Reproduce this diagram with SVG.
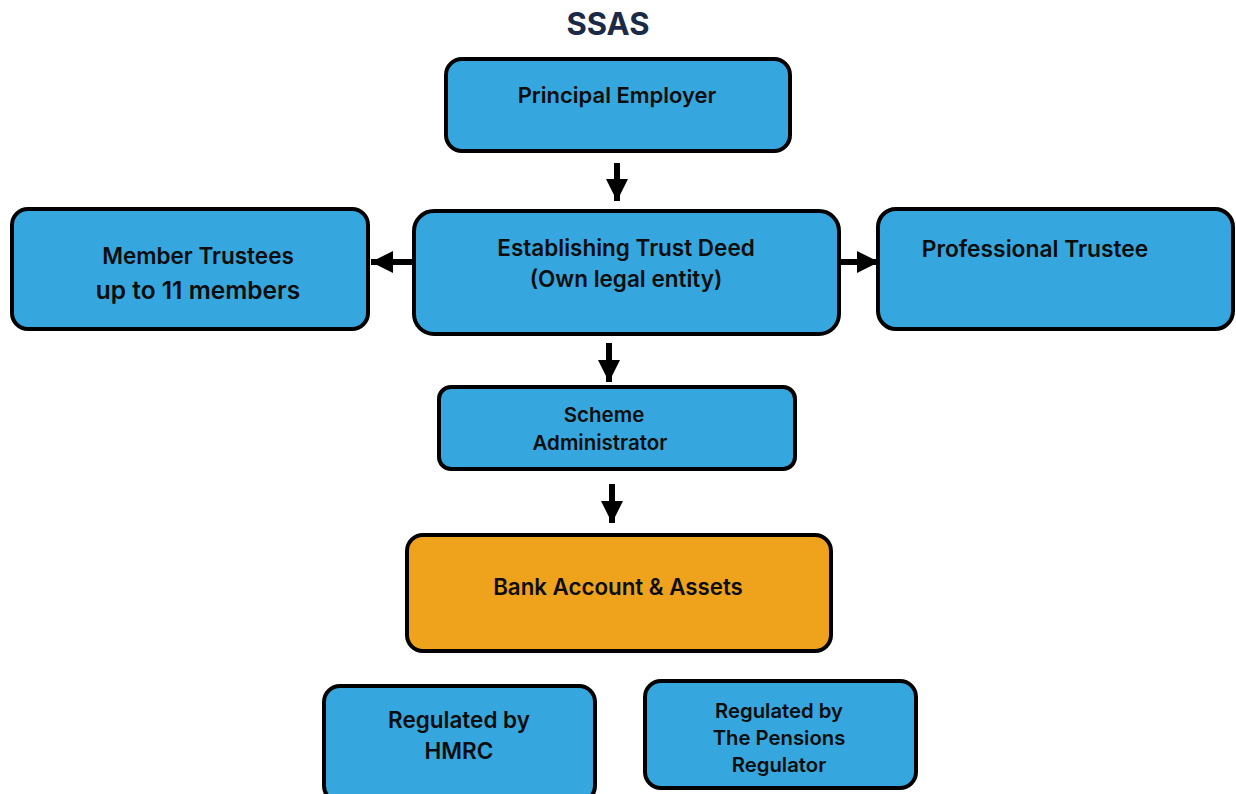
<svg xmlns="http://www.w3.org/2000/svg" width="1236" height="794" viewBox="0 0 1236 794">
<style>
.box{fill:#35A7DE;stroke:#000;stroke-width:4}
.bank{fill:#EFA31C;stroke:#000;stroke-width:4}
.t{font-family:Inter,"Noto Sans",sans-serif;font-weight:600;fill:#0d0d0d;text-anchor:middle}
.conn{stroke:#000;stroke-width:6;fill:none}
</style>
<defs>
<marker id="ah" viewBox="0 0 10 10" refX="10" refY="5" markerWidth="3.7" markerHeight="3.7" orient="auto" markerUnits="strokeWidth">
<path d="M0,0 L10,5 L0,10 Z" fill="#000"/>
</marker>
</defs>
<rect width="1236" height="794" fill="#fff"/>
<text x="608" y="35" class="t" style="font-size:31px;font-weight:700;fill:#1B2A47">SSAS</text>
<g id="connectors">
<line class="conn" x1="617" y1="163" x2="617" y2="201" marker-end="url(#ah)"/>
<line class="conn" x1="412" y1="262" x2="371" y2="262" marker-end="url(#ah)"/>
<line class="conn" x1="840" y1="262" x2="879" y2="262" marker-end="url(#ah)"/>
<line class="conn" x1="609" y1="343" x2="609" y2="382" marker-end="url(#ah)"/>
<line class="conn" x1="612" y1="484" x2="612" y2="523" marker-end="url(#ah)"/>
</g>
<g id="principal">
<rect class="box" x="446" y="59" width="344" height="92" rx="16"/>
<text class="t" x="617" y="103" style="font-size:22px">Principal Employer</text>
</g>
<g id="member">
<rect class="box" x="12" y="209" width="356" height="120" rx="16"/>
<text class="t" x="198" y="264" style="font-size:22.5px">Member Trustees</text>
<text class="t" x="198" y="299" style="font-size:24.5px">up to 11 members</text>
</g>
<g id="deed">
<rect class="box" x="414" y="211" width="425" height="123" rx="20"/>
<text class="t" x="626" y="256" style="font-size:22.5px">Establishing Trust Deed</text>
<text class="t" x="626" y="287" style="font-size:22.5px">(Own legal entity)</text>
</g>
<g id="professional">
<rect class="box" x="878" y="209" width="355" height="120" rx="18"/>
<text class="t" x="1035" y="257" style="font-size:22.8px">Professional Trustee</text>
</g>
<g id="admin">
<rect class="box" x="439" y="387" width="356" height="82" rx="12"/>
<text class="t" x="604" y="422" style="font-size:20.5px">Scheme</text>
<text class="t" x="600" y="450" style="font-size:20.5px">Administrator</text>
</g>
<g id="bank">
<rect class="bank" x="407" y="535" width="424" height="116" rx="16"/>
<text class="t" x="618" y="595" style="font-size:22.3px">Bank Account &amp; Assets</text>
</g>
<g id="hmrc">
<rect class="box" x="324" y="686" width="271" height="116" rx="16"/>
<text class="t" x="459" y="728" style="font-size:22.5px">Regulated by</text>
<text class="t" x="459" y="759" style="font-size:22.5px">HMRC</text>
</g>
<g id="tpr">
<rect class="box" x="645" y="681" width="271" height="107" rx="16"/>
<text class="t" x="779" y="718" style="font-size:20.3px">Regulated by</text>
<text class="t" x="779" y="745" style="font-size:20.3px">The Pensions</text>
<text class="t" x="779" y="772" style="font-size:20.3px">Regulator</text>
</g>
</svg>
